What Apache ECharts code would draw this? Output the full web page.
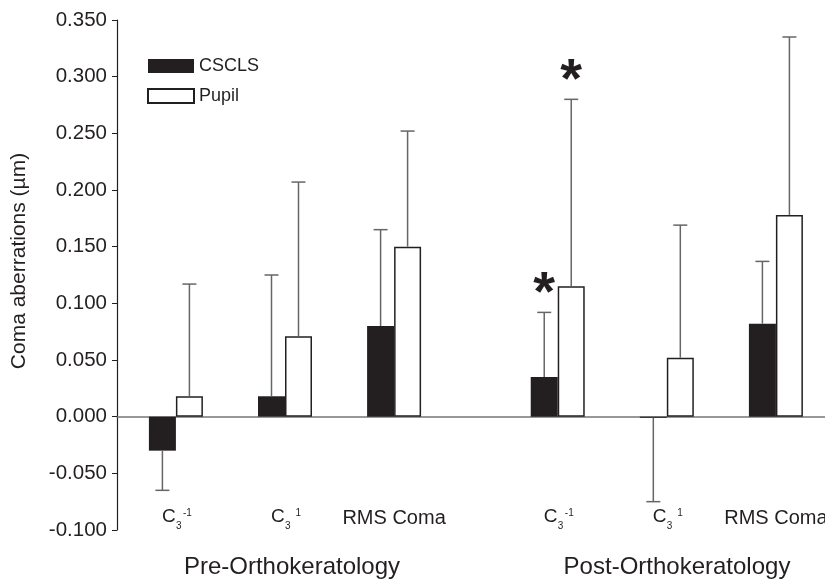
<!DOCTYPE html>
<html>
<head>
<meta charset="utf-8">
<script src="https://cdn.jsdelivr.net/npm/echarts@6/dist/echarts.min.js"></script>
<style>
html, body { margin: 0; padding: 0; background: #fff; }
#chart { width: 825px; height: 583px; }
</style>
</head>
<body>
<div id="chart"></div>
<script>
// bar positions on the x axis (gap between pre and post groups)
const positions = [0, 1, 2, 3.5, 4.5, 5.5];
const termMain = ['C', 'C', 'RMS Coma', 'C', 'C', 'RMS Coma'];
const termSub = ['3', '3', '', '3', '3', ''];
const termSup = ['-1', '1', '', '-1', '1', ''];
const groupLabels = ['Pre-Orthokeratology', 'Post-Orthokeratology'];

const cscls = [-0.030, 0.018, 0.080, 0.035, -0.001, 0.082];
const csclsErr = [-0.065, 0.125, 0.165, 0.092, -0.075, 0.137];
const csclsSig = [0, 0, 0, 1, 0, 0];
const pupil = [0.018, 0.071, 0.150, 0.115, 0.052, 0.178];
const pupilErr = [0.117, 0.207, 0.252, 0.280, 0.169, 0.335];
const pupilSig = [0, 0, 0, 1, 0, 0];

const yMin = -0.100, yMax = 0.350, yStep = 0.050;

const ink = '#231f20';
const barW = 27;
const font = 'Liberation Sans, Arial, Helvetica, sans-serif';

let chart = echarts.init(document.getElementById('chart'));

function errorBars(side) {
    return function (params, api) {
        let x = api.coord([api.value(0), 0])[0] + side * barW / 2;
        let y0 = api.coord([0, api.value(1)])[1];
        let y1 = api.coord([0, api.value(2)])[1];
        let children = [
            { type: 'line', shape: { x1: x, y1: y0, x2: x, y2: y1 }, style: { stroke: '#666', lineWidth: 1.5 } },
            { type: 'line', shape: { x1: x - 7, y1: y1, x2: x + 7, y2: y1 }, style: { stroke: '#666', lineWidth: 1.5 } }
        ];
        if (api.value(3)) {
            children.push({
                type: 'text',
                style: {
                    x: x, y: y1 - 18, text: '*', align: 'center', verticalAlign: 'middle',
                    font: 'bold 56px ' + font, fill: ink
                }
            });
        }
        return { type: 'group', children: children };
    };
}

function termLabel(params, api) {
    let i = api.value(2);
    let pt = api.coord([api.value(0), api.value(1)]);
    if (!termSub[i]) {
        return {
            type: 'text',
            style: { x: pt[0], y: pt[1] - 12, text: termMain[i], align: 'center', verticalAlign: 'middle', font: '20px ' + font, fill: ink }
        };
    }
    let sx = pt[0] - 14;
    return {
        type: 'group',
        children: [
            { type: 'text', style: { x: sx, y: pt[1] - 13, text: termMain[i], align: 'left', verticalAlign: 'middle', font: '19px ' + font, fill: ink } },
            { type: 'text', style: { x: sx + 14, y: pt[1] - 3.5, text: termSub[i], align: 'left', verticalAlign: 'middle', font: '10px ' + font, fill: ink } },
            { type: 'text', style: { x: sx + 30, y: pt[1] - 16.5, text: termSup[i], align: 'right', verticalAlign: 'middle', font: '10px ' + font, fill: ink } }
        ]
    };
}

chart.setOption({
    animation: false,
    backgroundColor: '#fff',
    grid: { left: 117, right: 0, top: 20, bottom: 53, outerBoundsMode: 'none' },
    legend: {
        left: 142,
        top: 52,
        orient: 'vertical',
        icon: 'rect',
        itemWidth: 46,
        itemHeight: 14,
        itemGap: 12,
        textStyle: { fontFamily: font, fontSize: 18, color: ink },
        data: ['CSCLS', 'Pupil']
    },
    xAxis: {
        type: 'value',
        min: -0.54,
        max: 5.95,
        axisLine: { show: true, onZero: true, lineStyle: { color: '#777', width: 1.5 } },
        axisTick: { show: false },
        axisLabel: { show: false },
        splitLine: { show: false }
    },
    yAxis: {
        type: 'value',
        min: yMin,
        max: yMax,
        interval: yStep,
        name: 'Coma aberrations (µm)',
        nameLocation: 'middle',
        nameGap: 87,
        nameTextStyle: { fontFamily: font, fontSize: 21, color: ink, padding: [0, 0, 0, 28] },
        axisLine: { show: true, onZero: false, lineStyle: { color: ink, width: 1.2 } },
        axisTick: { show: true, length: 5, lineStyle: { color: ink } },
        axisLabel: {
            fontFamily: font, fontSize: 20.5, color: ink, margin: 10,
            formatter: v => v.toFixed(3)
        },
        splitLine: { show: false }
    },
    series: [
        {
            name: 'CSCLS',
            type: 'bar',
            barWidth: barW,
            barGap: '0%',
            itemStyle: { color: ink },
            data: positions.map((p, i) => [p, cscls[i]])
        },
        {
            name: 'Pupil',
            type: 'bar',
            barWidth: barW,
            barGap: '0%',
            itemStyle: { color: '#fff', borderColor: ink, borderWidth: 1.5 },
            data: positions.map((p, i) => [p, pupil[i]])
        },
        {
            type: 'custom',
            renderItem: errorBars(-1),
            z: 3,
            data: positions.map((p, i) => [p, cscls[i], csclsErr[i], csclsSig[i]])
        },
        {
            type: 'custom',
            renderItem: errorBars(1),
            z: 3,
            data: positions.map((p, i) => [p, pupil[i], pupilErr[i], pupilSig[i]])
        },
        {
            type: 'custom',
            renderItem: termLabel,
            silent: true,
            data: positions.map((p, i) => [p, yMin, i])
        }
    ],
    graphic: [
        { type: 'text', x: 292, y: 567, style: { text: groupLabels[0], font: '24px ' + font, fill: ink, align: 'center', verticalAlign: 'middle' } },
        { type: 'text', x: 677, y: 567, style: { text: groupLabels[1], font: '24px ' + font, fill: ink, align: 'center', verticalAlign: 'middle' } }
    ]
});
</script>
</body>
</html>
